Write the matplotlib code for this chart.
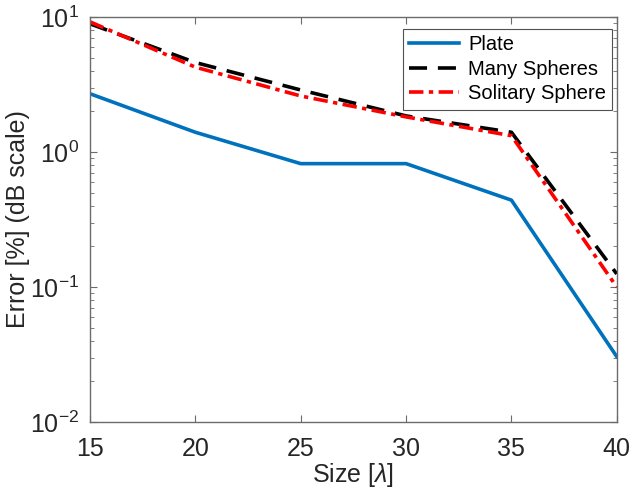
#!/usr/bin/env python3
"""Error vs size for plate, many spheres and solitary sphere (log scale)."""

import matplotlib
matplotlib.use('Agg')
import matplotlib.pyplot as plt
from matplotlib.ticker import LogLocator, LogFormatterMathtext, NullFormatter

plt.rcParams['font.family'] = ['Liberation Sans', 'DejaVu Sans']
plt.rcParams['mathtext.fontset'] = 'custom'
plt.rcParams['mathtext.rm'] = 'Liberation Sans'
plt.rcParams['mathtext.it'] = 'Liberation Sans:italic'

SIZES = [15, 20, 25, 30, 35, 40]
PLATE = [2.7, 1.4, 0.82, 0.82, 0.44, 0.0305]
MANY_SPHERES = [8.9, 4.6, 2.88, 1.85, 1.4, 0.125]
SOLITARY_SPHERE = [9.2, 4.25, 2.6, 1.82, 1.32, 0.1]

AXIS_GRAY = '#6b6b6b'


def main():
    fig = plt.figure(figsize=(6.3, 4.93), dpi=100)
    ax = fig.add_axes([0.143, 0.144, 0.836, 0.8215])

    ax.plot(SIZES, PLATE, color='#0072BD', lw=2.6, label='Plate')
    ax.plot(SIZES, MANY_SPHERES, color='black', lw=2.6,
            linestyle=(0, (5, 3)), label='Many Spheres')
    ax.plot(SIZES, SOLITARY_SPHERE, color='#ff0000', lw=2.6,
            linestyle=(0, (4, 1.5, 1.2, 1.5)), label='Solitary Sphere')

    ax.set_yscale('log')
    ax.set_xlim(15, 40)
    ax.set_ylim(1e-2, 1e1)
    ax.set_xticks(SIZES)
    ax.yaxis.set_major_locator(LogLocator(base=10, numticks=10))
    ax.yaxis.set_major_formatter(LogFormatterMathtext())
    ax.yaxis.set_minor_locator(LogLocator(base=10, subs=range(2, 10), numticks=10))
    ax.yaxis.set_minor_formatter(NullFormatter())

    ax.tick_params(which='both', direction='in', top=True, right=True,
                   color=AXIS_GRAY, labelsize=18, labelcolor='#262626')
    ax.tick_params(which='major', length=5, width=0.8)
    ax.tick_params(axis='x', which='major', pad=11)
    ax.tick_params(axis='y', which='major', pad=8)
    ax.tick_params(which='minor', length=3, width=0.6)
    for spine in ax.spines.values():
        spine.set_color(AXIS_GRAY)
        spine.set_linewidth(1.0)

    ax.set_xlabel(r'Size [$\lambda$]', fontsize=18, color='#262626', labelpad=0)
    ax.set_ylabel('Error [%] (dB scale)', fontsize=18, color='#262626', labelpad=0)

    leg = ax.legend(loc='upper right', bbox_to_anchor=(0.991, 0.97),
                    fontsize=14.5, handlelength=2.5, handletextpad=0.45,
                    borderpad=0.3, labelspacing=0.28, borderaxespad=0,
                    fancybox=False, frameon=True)
    leg.get_frame().set_edgecolor('#262626')
    leg.get_frame().set_linewidth(0.8)

    fig.savefig('out.png', dpi=100)
    plt.close(fig)


if __name__ == '__main__':
    main()
